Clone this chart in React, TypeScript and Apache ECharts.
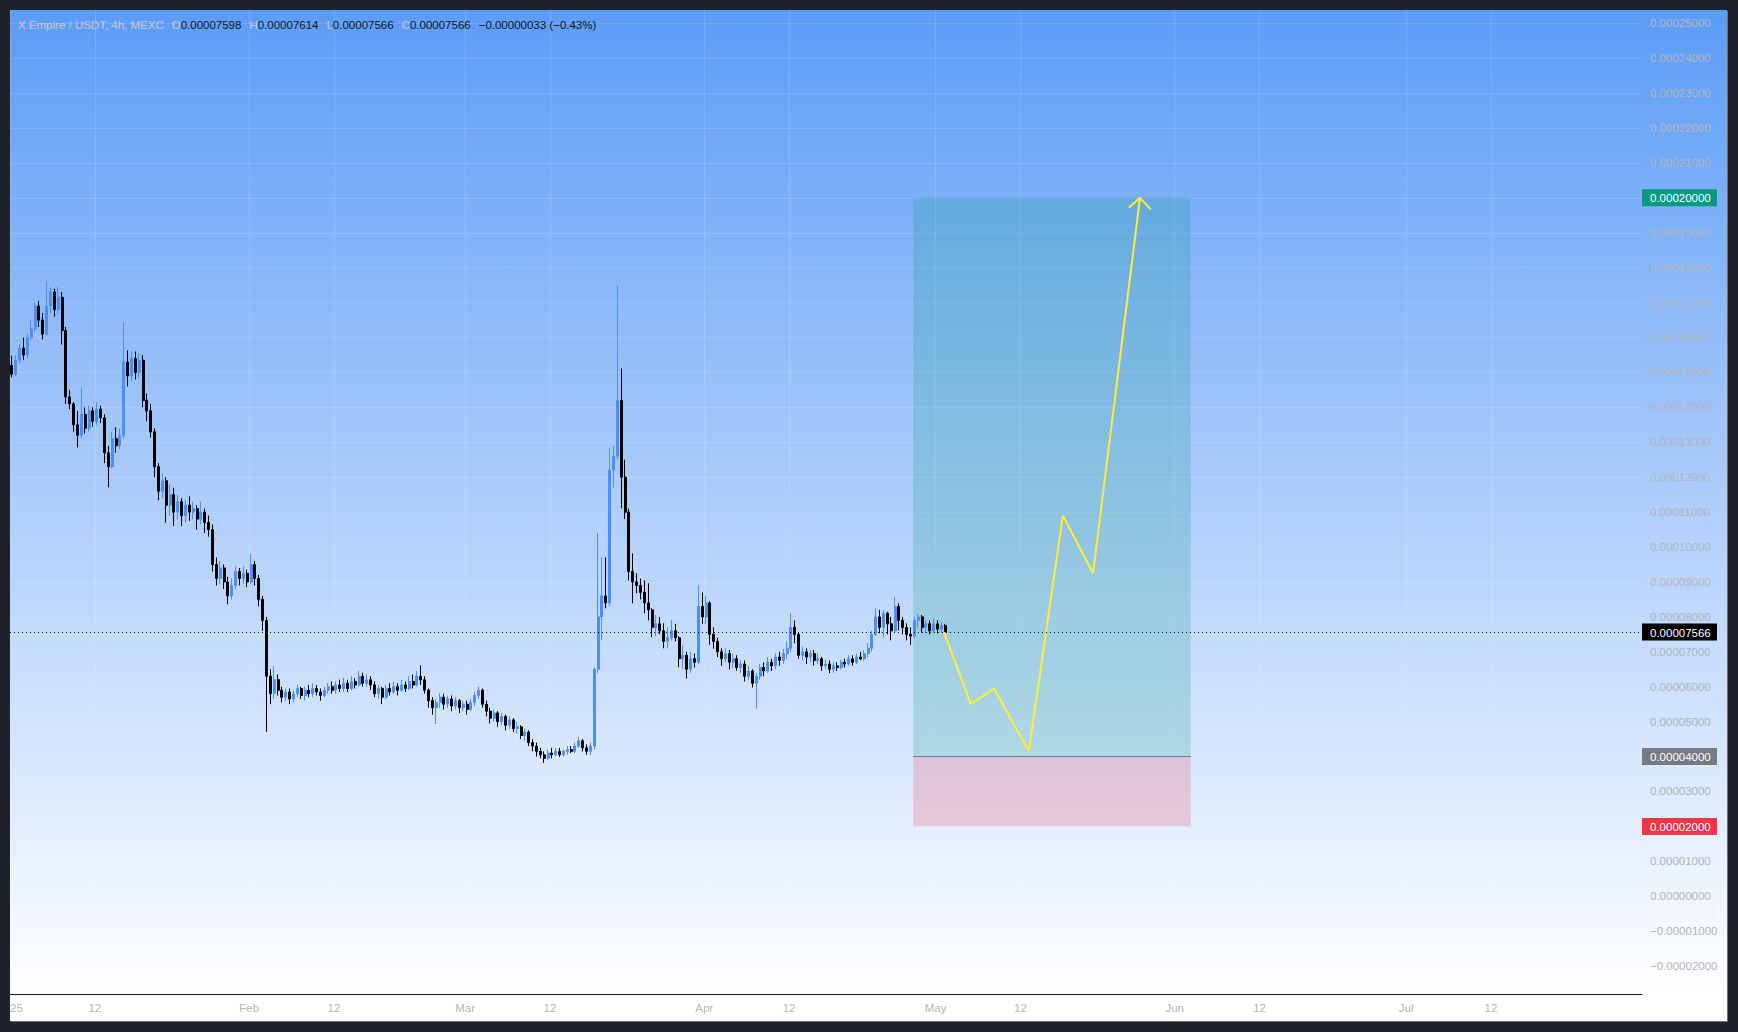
import React, { useEffect, useRef } from 'react';
import * as echarts from 'echarts';

const FONT = '"Liberation Sans", Arial, sans-serif';
const UNIT = 1e-8; // all prices below are in units of 0.00000001 USDT

// 12h candles [open, close, low, high], starting 2025-01-01 00:00
const CANDLE_START = '2025-01-01T00:00';
const CANDLE_HOURS = 12;

const janCandles = [
  [15200, 14950, 14860, 15480], [14950, 15350, 14900, 15500], [15350, 15700, 15250, 15800], [15700, 15500, 15350, 16000],
  [15500, 16000, 15400, 16100], [16000, 16250, 15900, 16500], [16250, 16900, 16150, 17000], [16900, 16500, 16300, 17050],
  [16500, 16100, 15950, 16700], [16100, 16900, 16050, 17620], [16900, 17300, 16700, 17450], [17300, 16800, 16600, 17400],
  [16800, 17150, 16700, 17450], [17150, 16200, 15800, 17300], [16200, 14300, 14100, 16300], [14300, 14100, 13950, 14500],
  [14100, 13500, 13300, 14150], [13500, 13200, 12855, 13900], [13200, 13800, 13100, 14570], [13800, 13400, 13250, 14000],
  [13400, 13900, 13300, 14050], [13900, 13600, 13450, 14000], [13600, 13950, 13500, 14150], [13950, 13700, 13550, 14050],
  [13700, 12700, 12400, 13800], [12700, 12300, 11710, 12900], [12300, 13100, 12250, 13300], [13100, 12900, 12700, 13430],
  [12900, 13200, 12800, 13400], [13200, 15300, 13100, 16434], [15300, 14900, 14600, 15630], [14900, 15400, 14750, 15600],
  [15400, 15000, 14800, 15600], [15000, 15350, 14850, 15550], [15350, 14200, 14000, 15500], [14200, 13900, 13600, 14400],
  [13900, 13300, 13140, 14100], [13300, 12300, 12000, 13400], [12300, 11600, 11340, 12400], [11600, 11900, 11400, 12100],
  [11900, 11200, 10700, 12000], [11200, 11500, 10900, 11800], [11500, 11000, 10600, 11700], [11000, 11300, 10800, 11500],
  [11300, 10900, 10600, 11400], [10900, 11200, 10700, 11350], [11200, 11000, 10750, 11450], [11000, 11100, 10800, 11300],
  [11100, 10800, 10500, 11200], [10800, 11000, 10650, 11300], [11000, 10700, 10400, 11100], [10700, 10500, 10300, 10900],
  [10500, 9500, 9300, 10650], [9500, 9100, 8900, 9700], [9100, 9400, 8950, 9600], [9400, 9000, 8800, 9500],
  [9000, 8600, 8360, 9150], [8600, 8900, 8500, 9100], [8900, 9300, 8800, 9450], [9300, 9100, 8900, 9400],
  [9100, 9250, 8950, 9450], [9250, 9000, 8850, 9350],
];

const febCandles = [
  [9000, 9500, 8950, 9800], [9500, 9100, 8900, 9600], [9100, 8500, 8300, 9200], [8500, 7900, 7600, 8600],
  [7900, 6300, 4710, 8000], [6300, 5800, 5500, 6500], [5800, 6200, 5650, 6600], [6200, 5900, 5750, 6350],
  [5900, 5700, 5550, 6000], [5700, 5850, 5600, 5950], [5850, 5650, 5500, 5950], [5650, 5800, 5550, 5900],
  [5800, 5950, 5700, 6050], [5950, 5750, 5650, 6000], [5750, 5900, 5600, 6000], [5900, 5800, 5700, 6050],
  [5800, 5950, 5700, 6100], [5950, 5850, 5750, 6050], [5850, 5750, 5600, 5950], [5750, 5900, 5700, 6000],
  [5900, 6000, 5800, 6100], [6000, 5900, 5800, 6150], [5900, 6050, 5800, 6150], [6050, 5950, 5850, 6200],
  [5950, 6100, 5850, 6250], [6100, 5950, 5850, 6200], [5950, 6150, 5900, 6300], [6150, 6050, 5950, 6250],
  [6050, 6300, 6000, 6455], [6300, 6100, 6000, 6400], [6100, 6200, 6000, 6350], [6200, 6050, 5900, 6300],
  [6050, 5800, 5700, 6150], [5800, 5950, 5650, 6050], [5950, 5700, 5500, 6000], [5700, 5950, 5650, 6050],
  [5950, 5850, 5750, 6100], [5850, 6000, 5800, 6150], [6000, 5900, 5750, 6100], [5900, 6050, 5850, 6200],
  [6050, 5950, 5850, 6150], [5950, 6150, 5900, 6300], [6150, 6050, 5950, 6350], [6050, 6300, 6000, 6450],
  [6300, 6200, 6050, 6613], [6200, 5900, 5800, 6300], [5900, 5600, 5400, 5950], [5600, 5400, 5200, 5700],
  [5400, 5550, 4930, 5650], [5550, 5700, 5400, 5800], [5700, 5500, 5350, 5800], [5500, 5650, 5400, 5750],
  [5650, 5450, 5300, 5750], [5450, 5600, 5350, 5700], [5600, 5400, 5250, 5650], [5400, 5500, 5300, 5600],
];

const marCandles = [
  [5500, 5350, 5200, 5600], [5350, 5550, 5300, 5650], [5550, 5750, 5450, 5850], [5750, 5900, 5650, 6000],
  [5900, 5500, 5400, 5950], [5500, 5300, 5150, 5600], [5300, 5100, 4950, 5400], [5100, 5250, 5000, 5350],
  [5250, 5000, 4850, 5300], [5000, 5150, 4900, 5250], [5150, 4900, 4750, 5200], [4900, 5050, 4800, 5150],
  [5050, 4800, 4700, 5100], [4800, 4850, 4650, 5000], [4850, 4600, 4500, 4900], [4600, 4700, 4450, 4800],
  [4700, 4400, 4300, 4750], [4400, 4300, 4150, 4500], [4300, 4150, 4000, 4400], [4150, 4050, 3950, 4250],
  [4050, 3950, 3819, 4150], [3950, 4100, 3900, 4200], [4100, 4050, 3950, 4250], [4050, 4150, 4000, 4250],
  [4150, 4050, 3990, 4250], [4050, 4150, 4000, 4200], [4150, 4200, 4050, 4300], [4200, 4150, 4100, 4300],
  [4150, 4300, 4100, 4400], [4300, 4450, 4250, 4552], [4450, 4250, 4150, 4500], [4250, 4150, 4050, 4350],
  [4150, 4300, 4037, 4400], [4300, 6500, 4200, 6556], [6500, 8000, 6385, 10393], [8000, 8600, 7329, 9705],
  [8600, 8400, 8245, 9705], [8400, 12200, 8300, 12826], [12200, 12600, 11710, 12900], [12600, 14200, 12500, 17493],
  [14200, 12000, 11108, 15117], [12000, 11000, 10800, 12500], [11000, 9300, 9047, 11100], [9300, 9000, 8388, 9820],
  [9000, 8900, 8675, 9247], [8900, 8700, 8500, 9100], [8700, 8400, 8102, 9047], [8400, 8200, 7900, 8961],
  [8200, 7700, 7415, 8250], [7700, 7800, 7450, 8050], [7800, 7600, 7500, 8000], [7600, 7300, 7100, 7816],
  [7300, 7400, 7100, 7700], [7400, 7600, 7330, 7900], [7600, 7400, 7300, 7800], [7400, 6800, 6556, 7450],
  [6800, 6900, 6500, 7200], [6900, 6500, 6233, 7000], [6500, 6800, 6400, 7000], [6800, 6700, 6550, 6950],
  [6700, 8300, 6650, 8913], [8300, 8000, 7800, 8700],
];

const aprCandles = [
  [8000, 8400, 7800, 8600], [8400, 7500, 7200, 8450], [7500, 7300, 7087, 7700], [7300, 7000, 6850, 7400],
  [7000, 6800, 6600, 7100], [6800, 6950, 6700, 7100], [6950, 6700, 6500, 7050], [6700, 6800, 6550, 6950],
  [6800, 6550, 6455, 6900], [6550, 6650, 6400, 6750], [6650, 6300, 6150, 6750], [6300, 6450, 6200, 6600],
  [6450, 6100, 5978, 6500], [6100, 6300, 5370, 6400], [6300, 6550, 6200, 6650], [6550, 6450, 6300, 6700],
  [6450, 6700, 6400, 6850], [6700, 6600, 6450, 6800], [6600, 6850, 6500, 6950], [6850, 6750, 6600, 7000],
  [6750, 6950, 6650, 7087], [6950, 7100, 6800, 7300], [7100, 7700, 7000, 8100], [7700, 7500, 7246, 7900],
  [7500, 6900, 6800, 7550], [6900, 7000, 6750, 7150], [7000, 6850, 6650, 7100], [6850, 6950, 6700, 7050],
  [6950, 6750, 6613, 7050], [6750, 6800, 6650, 6950], [6800, 6600, 6450, 6850], [6600, 6650, 6500, 6770],
  [6650, 6500, 6390, 6750], [6500, 6600, 6400, 6700], [6600, 6550, 6450, 6700], [6550, 6700, 6500, 6770],
  [6700, 6650, 6550, 6800], [6650, 6800, 6600, 6900], [6800, 6700, 6600, 6900], [6700, 6850, 6650, 6950],
  [6850, 6800, 6757, 7000], [6800, 6950, 6750, 7050], [6950, 7100, 6843, 7250], [7100, 7500, 7000, 7600],
  [7500, 8000, 7450, 8245], [8000, 7700, 7530, 8200], [7700, 8100, 7415, 8200], [8100, 7800, 7500, 8150],
  [7800, 7600, 7329, 8000], [7600, 8300, 7550, 8560], [8300, 7900, 7616, 8388], [7900, 7700, 7500, 8000],
  [7700, 7500, 7329, 7816], [7500, 7450, 7200, 7700], [7450, 7900, 7400, 8000], [7900, 8000, 7700, 8102],
  [8000, 7700, 7550, 8050], [7700, 7800, 7530, 7900], [7800, 7600, 7500, 7900], [7600, 7800, 7550, 7950],
];

const mayCandles = [
  [7800, 7650, 7530, 7900], [7650, 7750, 7550, 7850], [7750, 7566, 7540, 7800],
];

// Projection path (yellow) and its arrow head
const projectionTimes = ['2025-05-02T02:00', '2025-05-05T14:00', '2025-05-08T14:00', '2025-05-13T02:00', '2025-05-17T12:00', '2025-05-21T10:00', '2025-05-27T12:00'];
const projectionValues = [7566, 5500, 5950, 4150, 10900, 9250, 20000];
const arrowTimes = ['2025-05-26T01:30', '2025-05-27T12:00', '2025-05-28T21:30'];
const arrowValues = [19720, 20000, 19670];

// Long position tool
const positionStart = '2025-04-28T02:00';
const positionEnd = '2025-06-03T02:00';
const entryPrice = 4000;
const targetPrice = 20000;
const stopPrice = 2000;
const lastPrice = 7566;

// Axes
const xAxisMin = '2025-01-01T00:00';
const xAxisMax = '2025-07-31T14:00';
const xTickDates = ['2025-01-01', '2025-01-12', '2025-02-01', '2025-02-12', '2025-03-01', '2025-03-12', '2025-04-01', '2025-04-12', '2025-05-01', '2025-05-12', '2025-06-01', '2025-06-12', '2025-07-01', '2025-07-12'];
const xTickLabels = ['2025', '12', 'Feb', '12', 'Mar', '12', 'Apr', '12', 'May', '12', 'Jun', '12', 'Jul', '12'];
const yAxisMin = -2800;
const yAxisMax = 25380;
const yTickSteps = [-2, -1, 0, 1, 2, 3, 4, 5, 6, 7, 8, 9, 10, 11, 12, 13, 14, 15, 16, 17, 18, 19, 20, 21, 22, 23, 24, 25]; // x 0.00001

const ts = (s: string) => new Date(s).getTime();
const fmtPrice = (v: number) => (Math.abs(v) < 1e-12 ? '0.00000000' : v.toFixed(8)).replace('-', '\u2212');

const GRID_RIGHT = 85;
const GRID_BOTTOM = 27;

export default function App() {
  const ref = useRef<HTMLDivElement>(null);

  useEffect(() => {
    if (!ref.current) return;
    const chart = echarts.init(ref.current, undefined, { renderer: 'svg' });

    const candles = [...janCandles, ...febCandles, ...marCandles, ...aprCandles, ...mayCandles];
    const start = ts(CANDLE_START);
    const candleData = candles.map((c, i) => [
      start + (i * CANDLE_HOURS + CANDLE_HOURS / 2) * 3600e3,
      c[0] * UNIT, c[1] * UNIT, c[2] * UNIT, c[3] * UNIT,
    ]);
    const xTickTimes = xTickDates.map((d) => ts(d + 'T00:00'));
    const yTicks = yTickSteps.map((k) => k * 1e-5);
    const projData = projectionTimes.map((t, i) => [ts(t), projectionValues[i] * UNIT]);
    const arrowData = arrowTimes.map((t, i) => [ts(t), arrowValues[i] * UNIT]);
    const p0 = ts(positionStart);
    const p1 = ts(positionEnd);
    const txt = { fontSize: 11.5, fontFamily: FONT, fontWeight: 'normal' };

    const option: any = {
      animation: false,
      backgroundColor: 'transparent',
      textStyle: { fontFamily: FONT },
      title: {
        left: 8,
        top: 9,
        padding: 0,
        text:
          '{n|X Empire / USDT, 4h, MEXC}{k|O}{v|0.00007598}{k|H}{v|0.00007614}{k|L}{v|0.00007566}{k|C}{v|0.00007566}{c|\u22120.00000033 (\u22120.43%)}',
        textStyle: {
          fontWeight: 'normal',
          fontSize: 11.5,
          rich: {
            n: { ...txt, color: '#c3c6ce' },
            k: { ...txt, color: '#c3c6ce', padding: [0, 0, 0, 8] },
            v: { ...txt, color: '#131722' },
            c: { ...txt, color: '#131722', padding: [0, 0, 0, 8] },
          },
        },
      },
      grid: {
        left: 0,
        top: 0,
        right: GRID_RIGHT,
        bottom: GRID_BOTTOM,
        containLabel: false,
        outerBoundsMode: 'none',
      },
      xAxis: {
        type: 'value',
        scale: true,
        min: ts(xAxisMin),
        max: ts(xAxisMax),
        axisLine: { show: true, onZero: false, lineStyle: { color: '#131722', width: 1 } },
        axisTick: { show: false, customValues: xTickTimes },
        splitLine: { show: true, lineStyle: { color: 'rgba(255,255,255,0.13)', width: 1 } },
        axisLabel: {
          customValues: xTickTimes,
          showMinLabel: true,
          color: '#b2b5be',
          fontSize: 11.5,
          fontFamily: FONT,
          margin: 8,
          formatter: (val: number) => {
            const i = xTickTimes.findIndex((t) => Math.abs(t - val) < 60000);
            return i >= 0 ? xTickLabels[i] : '';
          },
        },
      },
      yAxis: {
        type: 'value',
        position: 'right',
        min: yAxisMin * UNIT,
        max: yAxisMax * UNIT,
        axisLine: { show: false },
        axisTick: { show: false, customValues: yTicks },
        splitLine: { show: true, lineStyle: { color: 'rgba(255,255,255,0.13)', width: 1 } },
        axisLabel: {
          customValues: yTicks,
          color: '#b2b5be',
          fontSize: 11.5,
          fontFamily: FONT,
          margin: 8,
          align: 'left',
          formatter: (v: number) => fmtPrice(v),
        },
      },
      series: [
        {
          name: 'position',
          type: 'line',
          z: 1,
          data: [[p0, entryPrice * UNIT], [p1, entryPrice * UNIT]],
          symbol: 'none',
          silent: true,
          lineStyle: { color: '#787b86', width: 1 },
          markArea: {
            silent: true,
            data: [
              [
                { xAxis: p0, yAxis: entryPrice * UNIT, itemStyle: { color: 'rgba(8,153,129,0.2)' } },
                { xAxis: p1, yAxis: targetPrice * UNIT },
              ],
              [
                { xAxis: p0, yAxis: stopPrice * UNIT, itemStyle: { color: 'rgba(242,54,69,0.2)' } },
                { xAxis: p1, yAxis: entryPrice * UNIT },
              ],
            ],
          },
          markLine: {
            silent: true,
            precision: 10,
            symbol: ['none', 'none'],
            label: { show: false },
            lineStyle: { color: '#131722', type: [1, 3], width: 1.2 },
            data: [{ yAxis: lastPrice * UNIT }],
          },
        },
        {
          name: 'XEMPIRE',
          type: 'candlestick',
          z: 2,
          data: candleData,
          encode: { x: 0, y: [1, 2, 3, 4] },
          barWidth: 2.5,
          large: false,
          silent: true,
          itemStyle: {
            color: '#4d8ff5',
            color0: '#000000',
            borderColor: '#4d8ff5',
            borderColor0: '#000000',
            borderWidth: 1,
          },
        },
        {
          name: 'projection',
          type: 'line',
          z: 3,
          data: projData,
          symbol: 'none',
          silent: true,
          lineStyle: { color: '#ffeb3b', width: 2 },
        },
        {
          name: 'arrow',
          type: 'line',
          z: 3,
          data: arrowData,
          symbol: 'none',
          silent: true,
          lineStyle: { color: '#ffeb3b', width: 2 },
        },
      ],
    };

    chart.setOption(option);

    const levels = [
      { v: targetPrice, bg: '#089981' },
      { v: lastPrice, bg: '#000000' },
      { v: entryPrice, bg: '#787b86' },
      { v: stopPrice, bg: '#f23645' },
    ];
    const gx = chart.getWidth() - GRID_RIGHT;
    chart.setOption({
      graphic: levels.map((l) => {
        const y = chart.convertToPixel({ yAxisIndex: 0 }, l.v * UNIT) as number;
        return {
          type: 'group',
          z: 100,
          children: [
            { type: 'rect', z: 100, shape: { x: gx, y: y - 8.5, width: 75, height: 17 }, style: { fill: l.bg } },
            {
              type: 'text',
              z: 101,
              x: gx + 8,
              y: y + 0.5,
              style: {
                text: fmtPrice(l.v * UNIT),
                fill: '#ffffff',
                font: `11.5px ${FONT}`,
                align: 'left',
                verticalAlign: 'middle',
                textAlign: 'left',
                textVerticalAlign: 'middle',
              },
            },
          ],
        };
      }),
    });

    return () => chart.dispose();
  }, []);

  return (
    <div style={{ position: 'fixed', left: 0, top: 0, width: 1738, height: 1032, background: '#1e222d', overflow: 'hidden' }}>
      <div
        style={{
          position: 'absolute',
          left: 10,
          top: 10,
          width: 1717,
          height: 1011,
          background: 'linear-gradient(180deg, #5c9cf6 0px, #ffffff 984px, #ffffff 100%)',
          boxShadow: '1px 1px 0 #6b6e78',
        }}
      >
        <div ref={ref} style={{ width: 1717, height: 1011 }} />
      </div>
    </div>
  );
}
